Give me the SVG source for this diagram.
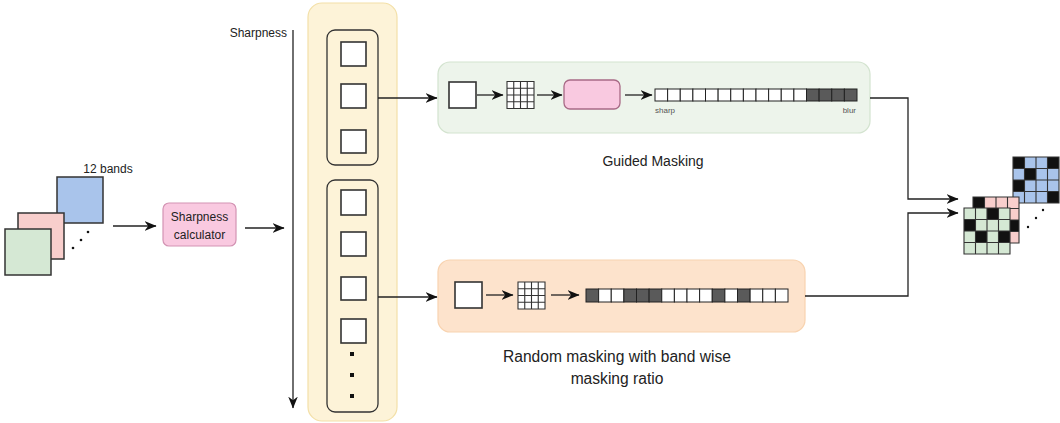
<svg xmlns="http://www.w3.org/2000/svg" width="1060" height="423" viewBox="0 0 1060 423">
<style>
text{font-family:"Liberation Sans",Arial,sans-serif;fill:#222}
.cn{fill:none;stroke:#222;stroke-width:1.3}
.sq{fill:#fff;stroke:#333;stroke-width:1.6}
.cell{fill:#fff;stroke:#222;stroke-width:1}
.dk{fill:#5a5a5a;stroke:#222;stroke-width:1}
.gl{fill:none;stroke:#333;stroke-width:1.1}
.blk{fill:#111}
.sm{fill:#555}
</style>
<defs>
<marker id="ah" viewBox="0 0 10 10" refX="9.5" refY="5" markerWidth="12" markerHeight="12" orient="auto" markerUnits="userSpaceOnUse">
<path d="M0,1 L10,5 L0,9 L3,5 z" fill="#111"/>
</marker>
<path id="g46" d="M0,0H46V46H0Z M11.5,0V46 M23,0V46 M34.5,0V46 M0,11.5H46 M0,23H46 M0,34.5H46"/>
<path id="g27" d="M0,0H27V27H0Z M6.75,0V27 M13.5,0V27 M20.25,0V27 M0,6.75H27 M0,13.5H27 M0,20.25H27"/>
</defs>

<g id="input-bands">
<rect x="57" y="177" width="46" height="46" fill="#a9c4eb" stroke="#333" stroke-width="1.5"/>
<rect x="18" y="213" width="46" height="46" fill="#f8cecc" stroke="#333" stroke-width="1.5"/>
<rect x="5" y="229" width="46" height="46" fill="#d5e8d4" stroke="#333" stroke-width="1.5"/>
<circle cx="88" cy="232" r="1.3" fill="#111"/>
<circle cx="81" cy="240" r="1.3" fill="#111"/>
<circle cx="73" cy="248" r="1.3" fill="#111"/>
<text x="108" y="173" font-size="12" text-anchor="middle">12 bands</text>
</g>

<g id="sharpness-calculator">
<rect x="163" y="203" width="73" height="43" rx="6" fill="#f9c9e0" stroke="#d393b3" stroke-width="1.2"/>
<text x="199.5" y="221" font-size="12" text-anchor="middle">Sharpness</text>
<text x="199.5" y="239" font-size="12" text-anchor="middle">calculator</text>
</g>

<g id="sharpness-axis">
<text x="287" y="37" font-size="12" text-anchor="end">Sharpness</text>
</g>

<g id="band-column">
<rect x="308" y="3" width="89" height="418" rx="14" fill="#fdf3d8" stroke="#f3e0a8" stroke-width="1.2"/>
</g>

<g id="sharp-bands">
<rect x="327" y="30" width="51" height="135" rx="8" fill="none" stroke="#333" stroke-width="1.3"/>
<rect class="sq" x="341" y="42" width="25" height="24"/>
<rect class="sq" x="341" y="84" width="25" height="24"/>
<rect class="sq" x="341" y="130" width="25" height="23"/>
</g>

<g id="blur-bands">
<rect x="327" y="180" width="51" height="232" rx="8" fill="none" stroke="#333" stroke-width="1.3"/>
<rect class="sq" x="341" y="190" width="25" height="25"/>
<rect class="sq" x="341" y="232" width="25" height="24"/>
<rect class="sq" x="341" y="277" width="25" height="23"/>
<rect class="sq" x="341" y="319" width="25" height="24"/>
<rect x="350" y="352" width="4" height="4" fill="#111"/>
<rect x="350" y="373" width="4" height="4" fill="#111"/>
<rect x="350" y="394" width="4" height="4" fill="#111"/>
</g>

<g id="guided-masking">
<rect x="438" y="62" width="432" height="71" rx="12" fill="#edf4eb" stroke="#d3e3cf" stroke-width="1.2"/>
<rect class="sq" x="449" y="82" width="27" height="26"/>
<rect x="507" y="82" width="27" height="26" fill="#fff"/>
<use href="#g27" x="507" y="81.5" class="gl" stroke-width="1.2"/>
<rect x="564" y="80" width="56" height="29" rx="6" fill="#f9c9e0" stroke="#a86a86" stroke-width="1.3"/>
<rect class="cell" x="655" y="89" width="12.625" height="12"/>
<rect class="cell" x="667.625" y="89" width="12.625" height="12"/>
<rect class="cell" x="680.25" y="89" width="12.625" height="12"/>
<rect class="cell" x="692.875" y="89" width="12.625" height="12"/>
<rect class="cell" x="705.5" y="89" width="12.625" height="12"/>
<rect class="cell" x="718.125" y="89" width="12.625" height="12"/>
<rect class="cell" x="730.75" y="89" width="12.625" height="12"/>
<rect class="cell" x="743.375" y="89" width="12.625" height="12"/>
<rect class="cell" x="756" y="89" width="12.625" height="12"/>
<rect class="cell" x="768.625" y="89" width="12.625" height="12"/>
<rect class="cell" x="781.25" y="89" width="12.625" height="12"/>
<rect class="cell" x="793.875" y="89" width="12.625" height="12"/>
<rect class="dk" x="806.5" y="89" width="12.625" height="12"/>
<rect class="dk" x="819.125" y="89" width="12.625" height="12"/>
<rect class="dk" x="831.75" y="89" width="12.625" height="12"/>
<rect class="dk" x="844.375" y="89" width="12.625" height="12"/>
<text class="sm" x="655" y="113" font-size="8">sharp</text>
<text class="sm" x="856" y="113" font-size="8" text-anchor="end">blur</text>
<text x="653" y="166" font-size="14" text-anchor="middle">Guided Masking</text>
</g>

<g id="random-masking">
<rect x="438" y="260" width="367" height="72" rx="12" fill="#fde3cc" stroke="#f8d3b0" stroke-width="1.2"/>
<rect class="sq" x="455" y="282" width="27" height="26"/>
<rect x="518" y="282" width="27" height="27" fill="#fff"/>
<use href="#g27" x="518" y="282" class="gl" stroke-width="1.2"/>
<rect class="dk" x="586" y="289" width="12.625" height="13"/>
<rect class="cell" x="598.625" y="289" width="12.625" height="13"/>
<rect class="cell" x="611.25" y="289" width="12.625" height="13"/>
<rect class="dk" x="623.875" y="289" width="12.625" height="13"/>
<rect class="dk" x="636.5" y="289" width="12.625" height="13"/>
<rect class="dk" x="649.125" y="289" width="12.625" height="13"/>
<rect class="cell" x="661.75" y="289" width="12.625" height="13"/>
<rect class="cell" x="674.375" y="289" width="12.625" height="13"/>
<rect class="cell" x="687" y="289" width="12.625" height="13"/>
<rect class="cell" x="699.625" y="289" width="12.625" height="13"/>
<rect class="dk" x="712.25" y="289" width="12.625" height="13"/>
<rect class="cell" x="724.875" y="289" width="12.625" height="13"/>
<rect class="dk" x="737.5" y="289" width="12.625" height="13"/>
<rect class="cell" x="750.125" y="289" width="12.625" height="13"/>
<rect class="cell" x="762.75" y="289" width="12.625" height="13"/>
<rect class="cell" x="775.375" y="289" width="12.625" height="13"/>
<text x="617" y="362" font-size="15.6" text-anchor="middle">Random masking with band wise</text>
<text x="617" y="384" font-size="15.6" text-anchor="middle">masking ratio</text>
</g>

<g id="masked-output">
<rect x="1013" y="157" width="46" height="46" fill="#a9c4eb"/>
<rect class="blk" x="1013" y="157" width="11.5" height="11.5"/>
<rect class="blk" x="1047.5" y="157" width="11.5" height="11.5"/>
<rect class="blk" x="1024.5" y="168.5" width="11.5" height="11.5"/>
<rect class="blk" x="1013" y="180" width="11.5" height="11.5"/>
<rect class="blk" x="1047.5" y="191.5" width="11.5" height="11.5"/>
<use href="#g46" x="1013" y="157" class="gl"/>
<rect x="973" y="197" width="46" height="46" fill="#f8cecc"/>
<rect class="blk" x="973" y="197" width="11.5" height="11.5"/>
<rect class="blk" x="1007.5" y="220" width="11.5" height="11.5"/>
<use href="#g46" x="973" y="197" class="gl"/>
<rect x="964" y="208" width="46" height="46" fill="#d5e8d4"/>
<rect class="blk" x="987" y="208" width="11.5" height="11.5"/>
<rect class="blk" x="964" y="219.5" width="11.5" height="11.5"/>
<rect class="blk" x="975.5" y="231" width="11.5" height="11.5"/>
<rect class="blk" x="998.5" y="231" width="11.5" height="11.5"/>
<use href="#g46" x="964" y="208" class="gl"/>
<circle cx="1043" cy="210" r="1.2" fill="#111"/>
<circle cx="1036" cy="218" r="1.2" fill="#111"/>
<circle cx="1028" cy="227" r="1.2" fill="#111"/>
</g>

<g id="connectors">
<path class="cn" d="M113,226 H156" marker-end="url(#ah)"/>
<path class="cn" d="M245,228 H284" marker-end="url(#ah)"/>
<path class="cn" d="M293,30 V408" marker-end="url(#ah)"/>
<path class="cn" d="M378,98 H437" marker-end="url(#ah)"/>
<path class="cn" d="M378,297 H437" marker-end="url(#ah)"/>
<path class="cn" d="M477,95 H503" marker-end="url(#ah)"/>
<path class="cn" d="M537,95 H562" marker-end="url(#ah)"/>
<path class="cn" d="M625,95 H652" marker-end="url(#ah)"/>
<path class="cn" d="M486,295 H513" marker-end="url(#ah)"/>
<path class="cn" d="M551,295 H579" marker-end="url(#ah)"/>
<path class="cn" d="M870,98 H908 V199 H958" marker-end="url(#ah)"/>
<path class="cn" d="M805,296 H908 V213 H958" marker-end="url(#ah)"/>
</g>
</svg>
